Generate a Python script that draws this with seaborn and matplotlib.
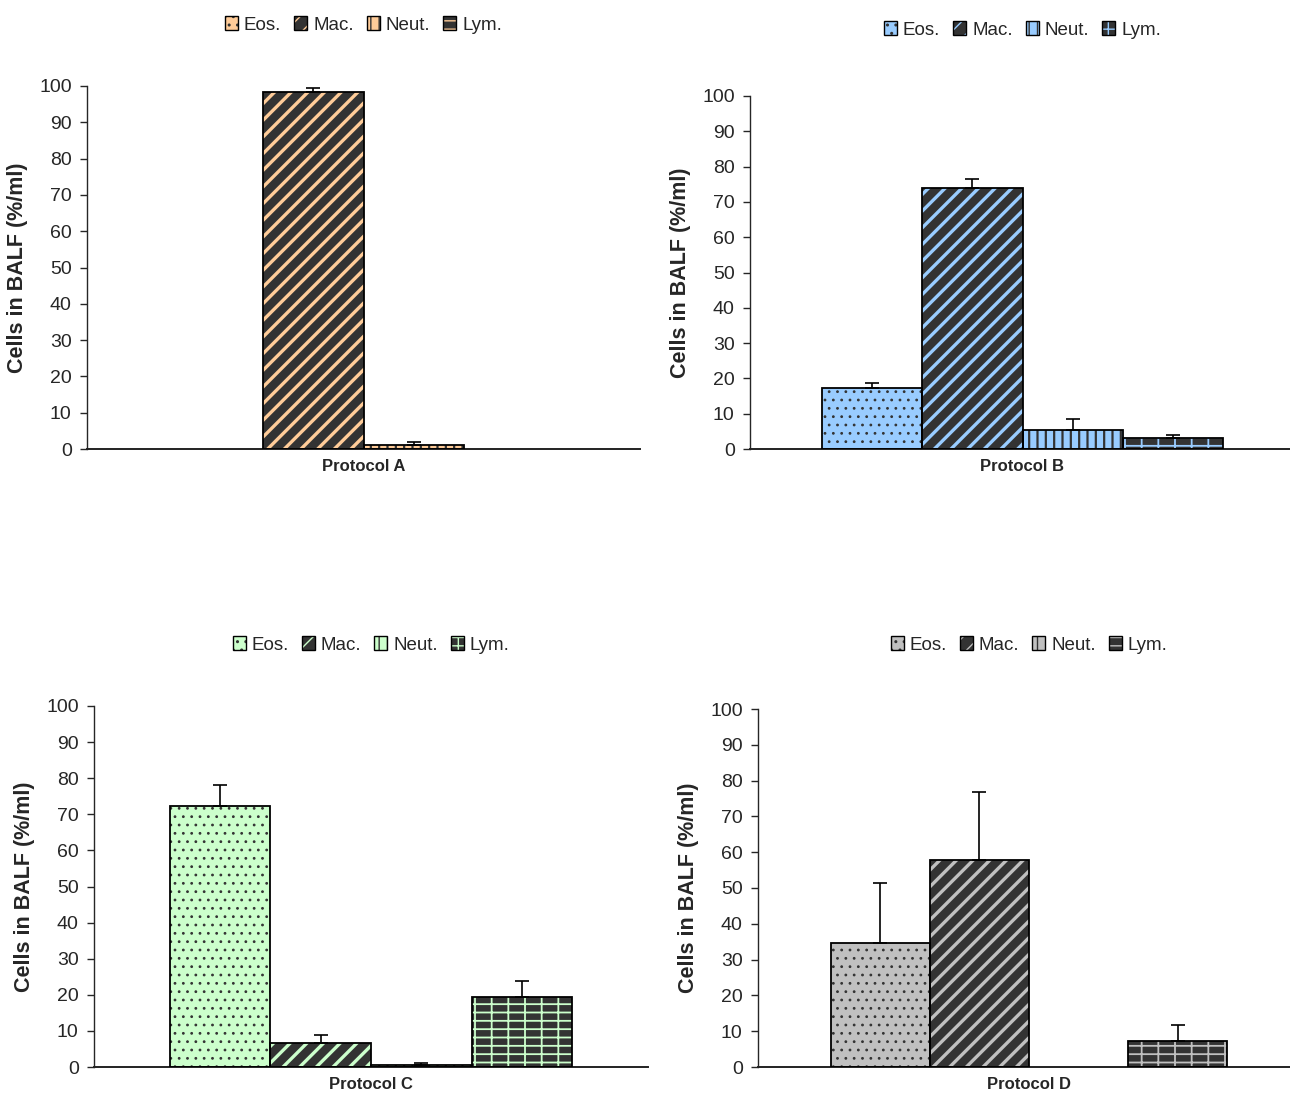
import matplotlib
matplotlib.use('Agg')
import matplotlib.pyplot as plt
import matplotlib.patches as mpatches
import seaborn as sns
import pandas as pd

# ---------------- data ----------------
cells = ['Eos.', 'Mac.', 'Neut.', 'Lym.']
protocols = ['Protocol A', 'Protocol B', 'Protocol C', 'Protocol D']

values_a = [0.0, 98.4, 1.1, 0.0]
errors_a = [0.0, 1.0, 0.7, 0.0]
values_b = [17.3, 74.0, 5.5, 3.2]
errors_b = [1.5, 2.6, 3.1, 0.9]
values_c = [72.3, 6.7, 0.6, 19.3]
errors_c = [5.8, 2.3, 0.5, 4.4]
values_d = [34.5, 57.8, 0.0, 7.2]
errors_d = [17.0, 19.0, 0.0, 4.4]

yticks = [0, 10, 20, 30, 40, 50, 60, 70, 80, 90, 100]
y_label = 'Cells in BALF (%/ml)'

light_colors = ['#FFCC99', '#99CCFF', '#CCFFCC', '#C0C0C0']
dark_color = '#333333'

all_values = [values_a, values_b, values_c, values_d]
all_errors = [errors_a, errors_b, errors_c, errors_d]

# per cell type: (face is light?, hatch, hatch linewidth)
styles = [(True, '..', 0.8), (False, '//', 2.4), (True, '||', 1.6), (False, '--|', 1.3)]

# ---------------- figure ----------------
sns.set_style('ticks')
plt.rcParams['font.family'] = ['Liberation Sans', 'DejaVu Sans']

W, H = 1290, 1099
fig = plt.figure(figsize=(W / 100, H / 100), dpi=100)

# axes boxes in pixels: left, right, top, bottom
boxes = [(87, 640, 86, 449), (750, 1295, 96, 449), (94, 648, 706, 1067), (758, 1300, 709, 1067)]
bar_widths = [0.73, 0.737, 0.727, 0.732]
legend_y = [25, 30, 645, 645]


def ax_from_box(b):
    l, r, t, bt = b
    return fig.add_axes([l / W, 1 - bt / H, (r - l) / W, (bt - t) / H])


for i in range(4):
    b = boxes[i]
    ax = ax_from_box(b)
    light = light_colors[i]
    df = pd.DataFrame({'protocol': [protocols[i]] * 4, 'cell': cells, 'value': all_values[i]})
    sns.barplot(data=df, x='protocol', y='value', hue='cell', hue_order=cells,
                order=[protocols[i]], palette=[light] * 4, width=bar_widths[i], ax=ax,
                legend=False, errorbar=None, saturation=1)
    bars = list(ax.patches)
    xs, ys, errs = [], [], []
    for j, p in enumerate(bars):
        is_light, hatch, hlw = styles[j]
        face = light if is_light else dark_color
        hcol = dark_color if is_light else light
        p.set_facecolor(face)
        p.set_edgecolor(hcol)
        p.set_hatch(hatch)
        p.set_linewidth(0)
        if hasattr(p, 'set_hatch_linewidth'):
            p.set_hatch_linewidth(hlw)
        h = p.get_height()
        if h > 0:
            ax.add_patch(mpatches.Rectangle((p.get_x(), p.get_y()), p.get_width(), h,
                                            fill=False, edgecolor='black', lw=1.3, zorder=3))
        if all_errors[i][j] > 0:
            xs.append(p.get_x() + p.get_width() / 2)
            ys.append(h)
            errs.append(all_errors[i][j])
    ax.errorbar(xs, ys, yerr=[[0] * len(errs), errs], fmt='none', ecolor='black',
                elinewidth=1.2, capsize=5, capthick=1.2, zorder=4)

    ax.set_xlim(-0.5, 0.5)
    ax.set_ylim(0, 100)
    ax.set_yticks(yticks)
    ax.set_yticklabels([str(t) for t in yticks])
    sns.despine(ax=ax)
    ax.spines['left'].set_linewidth(1.0)
    ax.spines['bottom'].set_linewidth(1.4)
    ax.spines['bottom'].set_color('#222222')
    ax.tick_params(axis='y', length=5, width=1, labelsize=14, pad=6, direction='out')
    ax.tick_params(axis='x', length=0, labelsize=12, pad=7)
    for tl in ax.get_xticklabels():
        tl.set_fontweight('bold')
    ax.set_xlabel('')
    ax.set_ylabel(y_label, fontsize=15.5, fontweight='bold', labelpad=8)

    handles = []
    for j in range(4):
        is_light, hatch, hlw = styles[j]
        face = light if is_light else dark_color
        hcol = dark_color if is_light else light
        hp = mpatches.Patch(facecolor=face, edgecolor=hcol, hatch=hatch, lw=0)
        op = mpatches.Patch(fill=False, edgecolor='black', lw=1.0)
        handles.append((hp, op))
    l, r, t, bt = b
    ly = (bt - legend_y[i]) / (bt - t)
    ax.legend(handles, cells, loc='center', bbox_to_anchor=(0.5, ly), ncol=4,
              frameon=False, handlelength=0.7, handleheight=0.7, handletextpad=0.3,
              columnspacing=0.7, prop={'size': 13.5})

fig.savefig('out.png', dpi=100)
